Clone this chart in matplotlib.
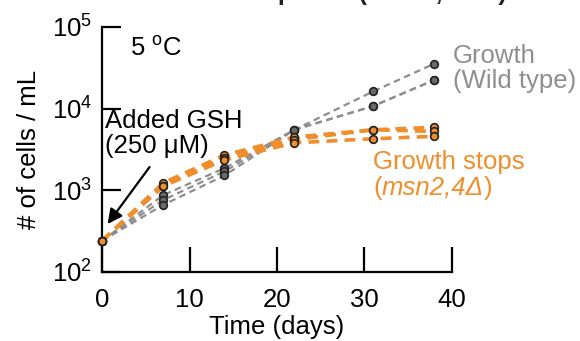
"""
Cold stress growth curves, wild type vs msn2,4 deletion
"""

import matplotlib
matplotlib.use('Agg')
import matplotlib.pyplot as plt

# time points (days)
days = [0, 7, 14, 22, 31, 38]

# log10 of cells / mL, one list per replicate
wt_rep1 = [2.38, 2.94, 3.27, 3.74, 4.21, 4.55]
wt_rep2 = [2.38, 2.88, 3.23, 3.74, 4.03, 4.35]
wt_rep3 = [2.38, 2.82, 3.18, 3.74, 4.03, 4.35]
mut_rep1 = [2.38, 3.09, 3.43, 3.65, 3.74, 3.77]
mut_rep2 = [2.38, 3.05, 3.40, 3.62, 3.74, 3.72]
mut_rep3 = [2.38, 3.05, 3.37, 3.58, 3.63, 3.66]

yticks = [2, 3, 4, 5]
xticks = [0, 10, 20, 30, 40]

GRAY = '#8e8e8e'
ORANGE = '#ef8e2b'
FS = 18.5

plt.rcParams['font.family'] = ['Liberation Sans', 'DejaVu Sans']
plt.rcParams['mathtext.fontset'] = 'custom'
plt.rcParams['mathtext.rm'] = 'Liberation Sans'
plt.rcParams['mathtext.it'] = 'Liberation Sans:italic'


def draw_rep(ax, vals, line_color, face, lw):
    yv = [10 ** v for v in vals]
    ax.plot(days, yv, ls=(0, (3, 2)), color=line_color, lw=lw, zorder=2)
    ax.plot(days, yv, ls='none', marker='o', ms=5.5, mfc=face, mec='#222222',
            mew=1.2, zorder=3, clip_on=False)


fig = plt.figure(figsize=(5.8, 3.41), dpi=100)
ax = fig.add_axes([0.176, 0.203, 0.603, 0.718])

for r in [wt_rep1, wt_rep2, wt_rep3]:
    draw_rep(ax, r, GRAY, '#6a6a6a', 1.6)
for r in [mut_rep1, mut_rep2, mut_rep3]:
    draw_rep(ax, r, ORANGE, ORANGE, 2.6)

ax.set_yscale('log')
ax.set_xlim(0, 40)
ax.set_ylim(1e2, 1e5)
ax.set_xticks(xticks)
ax.set_yticks([10 ** t for t in yticks])
ax.set_yticklabels(['$10^{%d}$' % t for t in yticks])
ax.minorticks_off()
ax.tick_params(axis='x', direction='in', length=18, width=1.6, labelsize=FS, pad=12)
ax.tick_params(axis='y', direction='in', length=14, width=1.6, labelsize=FS, pad=7)
for s in ['top', 'right']:
    ax.spines[s].set_visible(False)
for s in ['left', 'bottom']:
    ax.spines[s].set_linewidth(1.6)

ax.set_xlabel('Time (days)', fontsize=FS, labelpad=2)
ax.set_ylabel('# of cells / mL', fontsize=FS, labelpad=8)

ax.text(3.2, 10 ** 4.73, '5 $^{\\mathrm{o}}$C', fontsize=FS, va='center')
ax.text(0.3, 10 ** 3.70, 'Added GSH\n(250 μM)', fontsize=FS, ha='left',
        va='center', linespacing=1.05)
ax.annotate('', xy=(0.63, 10 ** 2.585), xytext=(5.43, 10 ** 3.283),
            arrowprops=dict(arrowstyle='-|>', color='black', lw=1.6,
                            mutation_scale=22, shrinkA=0, shrinkB=0))
ax.text(40.1, 10 ** 4.49, 'Growth\n(Wild type)', fontsize=FS, color=GRAY,
        va='center', ha='left', linespacing=1.05, clip_on=False)

# orange label: first line plain, strain name in italics between upright brackets
ax.text(31.0, 10 ** 3.34, 'Growth stops', fontsize=FS, color=ORANGE,
        va='center', ha='left')
p1 = ax.text(31.0, 10 ** 3.03, '(', fontsize=FS, color=ORANGE,
             va='center', ha='left')
p2 = ax.annotate('msn2,4Δ', xy=(1, 0), xycoords=p1, va='bottom', ha='left',
                 fontsize=FS, color=ORANGE, style='italic')
ax.annotate(')', xy=(1, 0), xycoords=p2, va='bottom', ha='left',
            fontsize=FS, color=ORANGE)

# title cut off at the top of the picture
fig.text(0.52, 1.0, 'Cold stress response (+GSH, 5 °C)', fontsize=18,
         fontweight='bold', ha='center', va='baseline', color='#222222')

fig.savefig('out.png', dpi=100)
